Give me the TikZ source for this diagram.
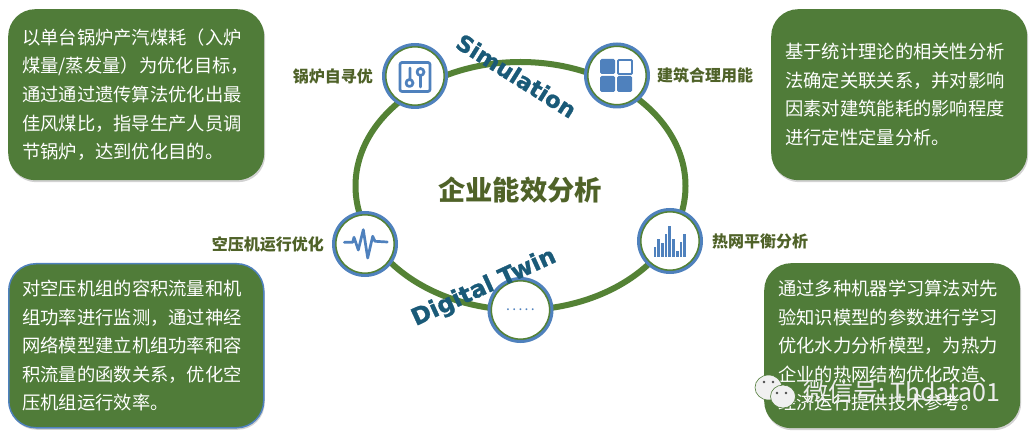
\documentclass[tikz,border=0pt]{standalone}
\usepackage{fontspec}
\usepackage{tikz}
\usetikzlibrary{positioning,shapes.geometric,shadows}
\setmainfont{Noto Sans CJK SC}
\newfontfamily\wavefont{DejaVu Sans Bold}[FakeBold=1.2]
\definecolor{leaf}{HTML}{507C39}
\definecolor{orbitc}{HTML}{548235}
\definecolor{steel}{HTML}{4F81BD}
\definecolor{olive}{HTML}{4F6228}
\definecolor{teal}{HTML}{1A5A78}

\begin{document}
\begin{tikzpicture}[
   x=1pt,y=-1pt,
   note/.style  ={fill=leaf,text=white,rounded corners=27pt,anchor=north west,inner sep=0pt,
                  minimum width=256pt,minimum height=171pt,text width=228pt,align=left,
                  font=\fontsize{18.3}{28.6}\selectfont,
                  drop shadow={shadow xshift=1pt,shadow yshift=-2pt,opacity=.35}},
   ring/.style  ={circle,draw=steel,line width=3pt,fill=white,minimum size=63pt,inner sep=0pt,
                  path picture={\draw[orbitc,line width=2.4pt] (path picture bounding box.center) circle (29.6pt);}},
   tag/.style   ={text=olive,inner sep=0pt,font=\fontsize{16}{16}\selectfont\bfseries},
   wave/.style  ={text=teal,inner sep=0pt,anchor=base},
   icon/.style  ={draw=steel,line width=2.7pt,line cap=round,line join=round},
   block/.style ={fill=steel,rounded corners=1.5pt},
   bubble/.style={ellipse,fill=white!94!black,draw=leaf,line width=.6pt,inner sep=0pt}
  ]
  \useasboundingbox (0,0) rectangle (1034,438);
  \fill[white] (0,0) rectangle (1034,438);

  % text boxes
  \node[note] (boilnote) at (8,9) {以单台锅炉产汽煤耗（入炉\\煤量/蒸发量）为优化目标，\\通过通过遗传算法优化出最\\佳风煤比，指导生产人员调\\节锅炉，达到优化目的。};
  \node[note] (buildnote) at (771,9) {基于统计理论的相关性分析\\法确定关联关系，并对影响\\因素对建筑能耗的影响程度\\进行定性定量分析。};
  \node[note,draw=steel,line width=1.5pt,minimum width=255pt,minimum height=164pt] (airnote) at (8,263) {对空压机组的容积流量和机\\组功率进行监测，通过神经\\网络模型建立机组功率和容\\积流量的函数关系，优化空\\压机组运行效率。};
  \node[note,minimum height=165pt] (heatnote) at (764,263) {通过多种机器学习算法对先\\验知识模型的参数进行学习\\优化水力分析模型，为热力\\企业的热网结构优化改造、\\经济运行提供技术参考。};

  % loop
  \node[ellipse,draw=orbitc,line width=6pt,minimum width=330pt,minimum height=248pt,inner sep=0pt] (orbit) at (520.5,186) {};
  \node[text=olive,inner sep=0pt,font=\fontsize{27.3}{28}\selectfont\bfseries] (title) at (520,190) {企业能效分析};

  % rings
  \node[ring] (boil) at (415,76) {};
  \node[ring] (build) at (617,75.5) {};
  \node[ring] (air) at (365,244) {};
  \node[ring] (heat) at (670,241) {};
  \node[ring,text=steel,font=\fontsize{14}{14}\selectfont] (more) at (520.5,310) {.\kern2.3pt.\kern2.3pt.\kern2.3pt.\kern2.3pt.};

  % labels
  \node[tag,left=9pt of boil] (boiltag) {锅炉自寻优};
  \node[tag,right=7pt of build] (buildtag) {建筑合理用能};
  \node[tag,left=8pt of air] (airtag) {空压机运行优化};
  \node[tag,right=9pt of heat] (heattag) {热网平衡分析};

  % icons
  \draw[icon,rounded corners=2pt] (400,62.5) rectangle (430,91.5);
  \draw[icon] (410,68) -- (410,79.5) (409.5,83) circle (3.5);
  \draw[icon] (420.5,72) circle (3.5) (420.5,75.5) -- (420.5,87);

  \fill[block] (600,59) rectangle (615,74);
  \draw[steel,line width=1.8pt,rounded corners=1pt] (618,60) rectangle (632,74);
  \fill[block] (600,76) rectangle (615,92);
  \fill[block] (617,76) rectangle (632,92);

  \draw[icon] (344.3,242.3) -- (352.7,242.3) -- (354,237.3) -- (358.3,250) -- (363.3,229.7) -- (367.7,258) -- (372.7,236.3) -- (375,241.3) -- (387.3,242);

  \foreach \bx/\by in {655/246.7,658.7/238.7,662.3/242.7,666/234.3,669.7/226,673.7/238.7,677.3/251,681/242,684.7/234.3}
    \fill[steel] (\bx-1.4,\by) rectangle (\bx+1.4,256.7);

  % curved words
  \node[wave,rotate=-32,font=\wavefont\fontsize{22.5}{23}\selectfont] (simword) at (512,83) {Simulation};
  \node[wave,rotate=24.6,font=\wavefont\fontsize{23.5}{24}\selectfont] (twinword) at (486.7,293.7) {Digital Twin};

  % watermark
  \node[bubble,minimum width=27pt,minimum height=25pt] (bigbub) at (768.5,387.5) {};
  \node[bubble,minimum width=25pt,minimum height=23pt] (smallbub) at (783,396.5) {};
  \foreach \ex/\ey in {764/382,773/382,777/393,786/393}
    \fill[black!70] (\ex,\ey) circle (1.3);
  \node[text=white!93!black,inner sep=0pt,anchor=west,font=\fontsize{25}{25}\selectfont] (mark) at (803,392) {微信号:\kern5pt Thdata01};
\end{tikzpicture}
\end{document}
